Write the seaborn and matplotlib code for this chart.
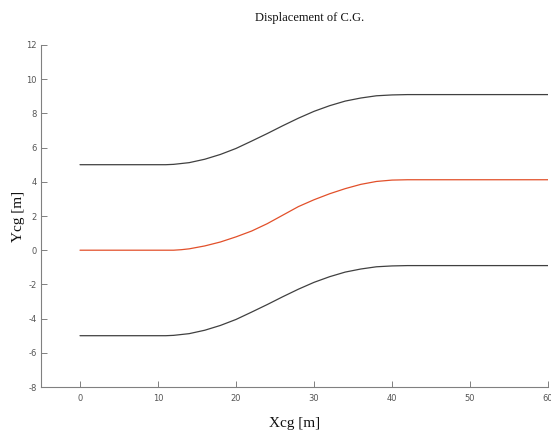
import numpy as np
import pandas as pd
import matplotlib
matplotlib.use("Agg")
import matplotlib.pyplot as plt
import seaborn as sns

# Data
x_upper = [0, 10, 11, 12, 14, 16, 18, 20, 22, 24, 26, 28, 30, 32, 34, 36, 38, 40, 42, 60]
y_upper = [5, 5, 5, 5.02, 5.12, 5.32, 5.6, 5.95, 6.38, 6.82, 7.28, 7.72, 8.12, 8.45, 8.72, 8.9, 9.03, 9.08, 9.1, 9.1]

x_cg = [0, 10, 12, 13, 14, 16, 18, 20, 22, 24, 26, 28, 30, 32, 34, 36, 38, 40, 42, 60]
y_cg = [0, 0, 0, 0.03, 0.08, 0.25, 0.48, 0.78, 1.12, 1.55, 2.05, 2.55, 2.95, 3.3, 3.6, 3.85, 4.02, 4.1, 4.12, 4.12]

x_lower = [0, 10, 11, 12, 14, 16, 18, 20, 22, 24, 26, 28, 30, 32, 34, 36, 38, 40, 42, 60]
y_lower = [-5, -5, -5, -4.98, -4.88, -4.68, -4.4, -4.05, -3.62, -3.18, -2.72, -2.28, -1.88, -1.55, -1.28, -1.1, -0.97, -0.92, -0.9, -0.9]

x_ticks = [0, 10, 20, 30, 40, 50, 60]
y_ticks = [-8, -6, -4, -2, 0, 2, 4, 6, 8, 10, 12]

df = pd.concat([
    pd.DataFrame({"x": x_upper, "y": y_upper, "line": "upper"}),
    pd.DataFrame({"x": x_cg, "y": y_cg, "line": "cg"}),
    pd.DataFrame({"x": x_lower, "y": y_lower, "line": "lower"}),
], ignore_index=True)

sns.set_style("white")
plt.rcParams["font.family"] = ["DejaVu Sans"]

fig = plt.figure(figsize=(5.51, 4.36), dpi=100)
ax = fig.add_axes([41 / 551, 49 / 436, 507 / 551, 342 / 436])

palette = {"upper": "#404040", "cg": "#e2502a", "lower": "#404040"}
sns.lineplot(data=df, x="x", y="y", hue="line", palette=palette, ax=ax,
             legend=False, linewidth=0.9, sort=False, estimator=None)

ax.set_xlim(-5, 60)
ax.set_ylim(-8, 12)
ax.set_xticks(x_ticks)
ax.set_yticks(y_ticks)
ax.set_xticklabels([str(t) for t in x_ticks])
ax.set_yticklabels([str(t) for t in y_ticks])

for side in ["top", "right"]:
    ax.spines[side].set_visible(False)
for side in ["left", "bottom"]:
    ax.spines[side].set_color("#808080")
    ax.spines[side].set_linewidth(0.8)

ax.tick_params(axis="both", which="major", bottom=True, left=True, top=False, right=False,
               direction="in", length=4, width=0.7, color="#808080",
               labelsize=6, labelcolor="#555555", pad=5)
ax.tick_params(axis="y", pad=3)

serif = ["Liberation Serif", "DejaVu Serif"]
ax.set_xlabel("Xcg [m]", fontsize=11, family=serif, color="#111111", labelpad=10)
ax.set_ylabel("Ycg [m]", fontsize=11, family=serif, color="#111111", labelpad=1)
fig.text(310 / 551, 1 - 18 / 436, "Displacement of C.G.", ha="center", va="center",
         fontsize=9, family=serif, color="#111111")

fig.savefig("out.png", dpi=100)
